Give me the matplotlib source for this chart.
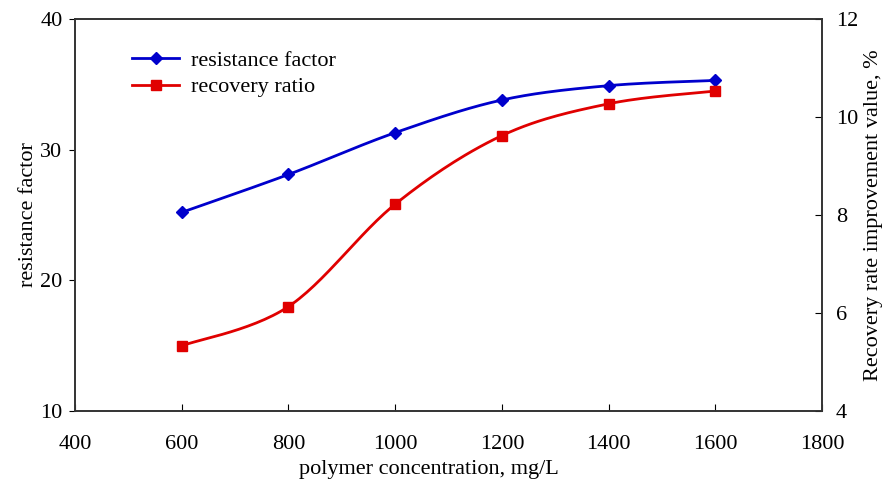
import numpy as np
import matplotlib.pyplot as plt

concentration = [600, 800, 1000, 1200, 1400, 1600]
resistance_factor = [25.2, 28.1, 31.3, 33.8, 34.9, 35.3]
recovery_ratio = [5.33, 6.13, 8.22, 9.62, 10.27, 10.53]

x_ticks = [400, 600, 800, 1000, 1200, 1400, 1600, 1800]
left_ticks = [10, 20, 30, 40]
right_ticks = [4, 6, 8, 10, 12]


def smooth(x, y, n=30):
    # Excel-style smoothed line (Catmull-Rom bezier through the points)
    x = np.asarray(x, float)
    y = np.asarray(y, float)
    px = np.concatenate([[x[0]], x, [x[-1]]])
    py = np.concatenate([[y[0]], y, [y[-1]]])
    xs, ys = [], []
    t = np.linspace(0, 1, n)
    for i in range(1, len(px) - 2):
        p0, p1, p2, p3 = (np.array([px[j], py[j]]) for j in range(i - 1, i + 3))
        c1 = p1 + (p2 - p0) / 6
        c2 = p2 - (p3 - p1) / 6
        b = ((1 - t) ** 3)[:, None] * p1 + (3 * (1 - t) ** 2 * t)[:, None] * c1 \
            + (3 * (1 - t) * t ** 2)[:, None] * c2 + (t ** 3)[:, None] * p2
        xs.append(b[:, 0])
        ys.append(b[:, 1])
    return np.concatenate(xs), np.concatenate(ys)


plt.rcParams['font.family'] = ['Liberation Serif', 'DejaVu Serif']
plt.rcParams['font.size'] = 16

fig, ax = plt.subplots(figsize=(8.88, 4.88), dpi=100)
fig.subplots_adjust(left=0.0845, right=0.9257, top=0.961, bottom=0.158)
ax2 = ax.twinx()

blue = '#0000CC'
red = '#E00000'

sx, sy = smooth(concentration, resistance_factor)
ax.plot(sx, sy, color=blue, linewidth=2)
ax.plot(concentration, resistance_factor, linestyle='none', marker='D',
        color=blue, markersize=6)
rx, ry = smooth(concentration, recovery_ratio)
ax2.plot(rx, ry, color=red, linewidth=2)
ax2.plot(concentration, recovery_ratio, linestyle='none', marker='s',
         color=red, markersize=7)

# legend proxies
ax.plot([], [], color=blue, linewidth=2, marker='D', markersize=6, label='resistance factor')
ax.plot([], [], color=red, linewidth=2, marker='s', markersize=7, label='recovery ratio')
ax.legend(loc='upper left', bbox_to_anchor=(0.05, 0.972), frameon=False,
          fontsize=16, handlelength=2.1, handletextpad=0.55, labelspacing=0.28)

ax.set_xlim(400, 1800)
ax.set_ylim(10, 40)
ax2.set_ylim(4, 12)
ax.set_xticks(x_ticks)
ax.set_yticks(left_ticks)
ax2.set_yticks(right_ticks)

ax.tick_params(axis='x', direction='in', length=5, pad=17, top=False)
ax.tick_params(axis='y', direction='out', length=4, pad=5)
ax2.tick_params(axis='y', direction='in', length=5, pad=10)

ax.set_xlabel('polymer concentration, mg/L', labelpad=5)
ax.xaxis.set_label_coords(0.474, -0.125)
ax.set_ylabel('resistance factor', labelpad=2)
ax2.set_ylabel('Recovery rate improvement value, %', labelpad=4)

for a in (ax, ax2):
    for s in a.spines.values():
        s.set_color('#333333')
        s.set_linewidth(1.2)

plt.savefig('out.png', dpi=100)
